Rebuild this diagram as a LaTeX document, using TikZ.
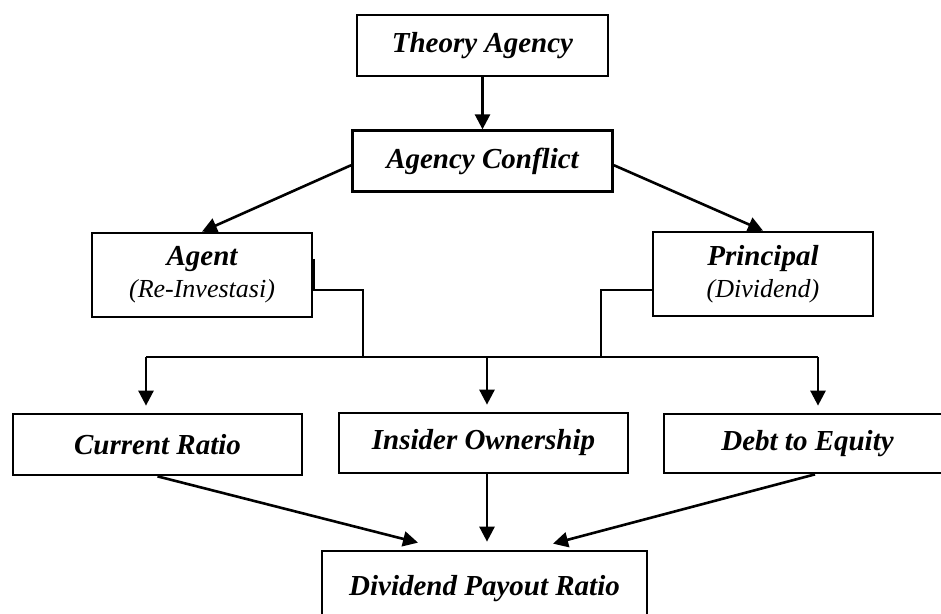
\documentclass[tikz,border=0pt]{standalone}
\usepackage{fontspec}
\setmainfont{Liberation Serif}
\usetikzlibrary{arrows.meta,positioning,calc}
\tikzset{
    block/.style={draw, line width=1.35pt, inner sep=0pt, align=center,
        font=\fontsize{14.5}{16}\selectfont\bfseries\itshape},
    flow/.style={-{Triangle[length=7.5pt, width=7.5pt]}, line width=1.3pt},
    link/.style={line width=1.3pt},
    gap/.style={shorten >=3.5pt}
}

\begin{document}
\begin{tikzpicture}[x=0.5pt, y=-0.5pt]
    \useasboundingbox (0,0) rectangle (941,614);

    \node[block, minimum width=125.5pt, minimum height=30.5pt] (theory) at (482.5,45.5) {Theory Agency};
    \node[block, minimum width=130pt, minimum height=30.5pt, below=26pt of theory] (conflict) {Agency Conflict};
    \node[block, minimum width=110pt, minimum height=42pt] (agent) at (202,275)
        {Agent\\[0pt]{\mdseries\fontsize{13}{15}\selectfont (Re-Investasi)}};
    \node[block, minimum width=110pt, minimum height=42pt] (principal) at (763,274)
        {Principal\\[0pt]{\mdseries\fontsize{13}{15}\selectfont (Dividend)}};
    \node[block, minimum width=144.5pt, minimum height=30.5pt] (current) at (157.5,444.5) {Current Ratio};
    \node[block, minimum width=144.5pt, minimum height=30pt] (insider) at (483.5,443) {Insider Ownership};
    \node[block, minimum width=143.5pt, minimum height=29.5pt] (debt) at (807.5,443.5) {Debt to Equity};
    \node[block, minimum width=162.5pt, minimum height=38pt] (dpr) at (484.5,589) {Dividend Payout Ratio};

    % bus between agent/principal and the three ratios
    \coordinate (busL) at (146,357);
    \coordinate (busM) at (487,357);
    \coordinate (busR) at (818,357);
    \coordinate (jA) at (363,357);
    \coordinate (jP) at (601,357);

    \draw[flow] (theory) -- (conflict);
    \draw[flow] ($(conflict.west)+(0,4)$) -- (agent.north);
    \draw[flow] ($(conflict.east)+(0,4)$) -- (principal.north);

    \draw[link] ($(agent.east)+(0,-16)$) -- ($(agent.east)+(0,15)$) -| (jA);
    \draw[link] ($(principal.west)+(0,16)$) -| (jP);
    \draw[link] (busL) -- (busR);

    \draw[flow, gap] (busL) -- (busL |- current.north);
    \draw[flow, gap] (busM) -- (busM |- insider.north);
    \draw[flow, gap] (busR) -- (busR |- debt.north);

    \draw[flow] (current.south) -- ($(dpr.north)+(-66.5,-7)$);
    \draw[flow] ($(insider.south)+(3.5,0)$) -- ($(dpr.north)+(2.5,-8)$);
    \draw[flow] ($(debt.south)+(7.5,0)$) -- ($(dpr.north)+(68.5,-6)$);
\end{tikzpicture}
\end{document}
